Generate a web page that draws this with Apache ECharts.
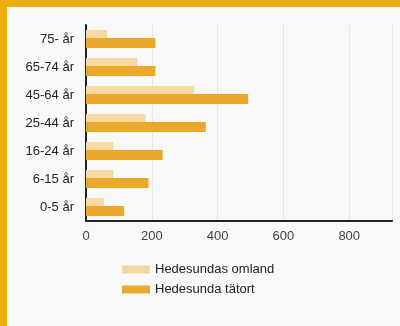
<!DOCTYPE html>
<html>
<head>
<meta charset="utf-8">
<script src="https://cdn.jsdelivr.net/npm/echarts@6/dist/echarts.min.js"></script>
<style>
    html, body { margin: 0; padding: 0; background: #EBAF13; }
    #chart { position: absolute; left: 7px; top: 7px; width: 393px; height: 319px; background: #f9f9f9; }
</style>
</head>
<body>
<div id="chart"></div>
<script>
// åldersgrupper, nerifrån och upp
const ageGroups = ['0-5 år', '6-15 år', '16-24 år', '25-44 år', '45-64 år', '65-74 år', '75- år'];
const omland = [55, 83, 83, 181, 328, 156, 64];   // Hedesundas omland
const tatort = [116, 190, 233, 364, 493, 211, 211]; // Hedesunda tätort
const xTicks = [0, 200, 400, 600, 800];

const chart = echarts.init(document.getElementById('chart'));

chart.setOption({
    textStyle: { fontFamily: 'Liberation Sans, Arial, sans-serif' },
    animation: false,
    grid: { left: 79, right: 8, top: 18, bottom: 105 },
    legend: {
        orient: 'vertical',
        left: 110,
        top: 251,
        itemWidth: 28,
        itemHeight: 8,
        itemGap: 7,
        icon: 'rect',
        data: ['Hedesundas omland', 'Hedesunda tätort'],
        textStyle: { fontSize: 13, color: '#222' }
    },
    xAxis: {
        type: 'value',
        min: xTicks[0],
        max: 930,
        interval: xTicks[1] - xTicks[0],
        axisLine: { show: true, lineStyle: { color: '#222', width: 2 } },
        axisTick: { show: false },
        axisLabel: { color: '#444', fontSize: 13, margin: 9, showMaxLabel: false },
        splitLine: { lineStyle: { color: '#e6e6e6' } }
    },
    yAxis: {
        type: 'category',
        data: ageGroups,
        axisLine: { show: true, lineStyle: { color: '#222', width: 2 } },
        axisTick: { show: false },
        axisLabel: { color: '#222', fontSize: 13, margin: 12 }
    },
    series: [
        {
            name: 'Hedesundas omland',
            type: 'bar',
            data: omland,
            barWidth: 8,
            barGap: 0,
            itemStyle: { color: '#F6D9A2' }
        },
        {
            name: 'Hedesunda tätort',
            type: 'bar',
            data: tatort,
            barWidth: 10,
            barGap: 0,
            itemStyle: { color: '#EAA92C' }
        }
    ]
});
</script>
</body>
</html>
